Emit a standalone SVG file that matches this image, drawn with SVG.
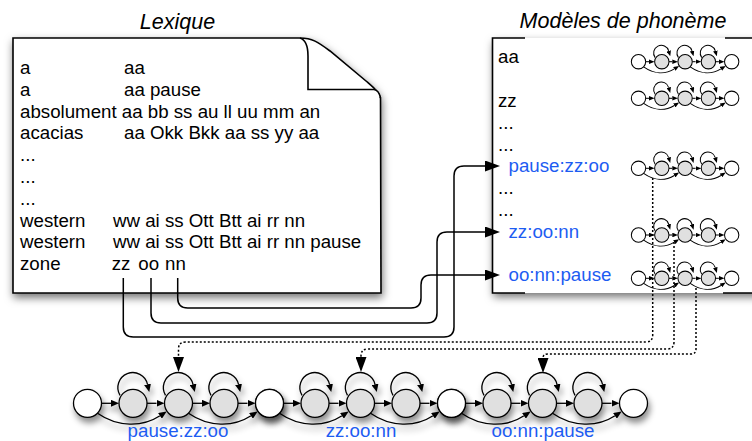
<svg xmlns="http://www.w3.org/2000/svg" width="752" height="441" viewBox="0 0 752 441">
<defs>
<style>
text{font-family:"Liberation Sans",Arial,Helvetica,sans-serif;font-size:18.7px;fill:#000}
.title{font-style:italic;font-size:21.5px;text-anchor:middle}
.blue{fill:#1d5cf2}
.lbl{fill:#1d5cf2;text-anchor:middle}
.edge{fill:none;stroke:#000;stroke-width:1.5}
.dot{fill:none;stroke:#000;stroke-width:1.5;stroke-dasharray:2 2}
.w{fill:#fff;stroke:#000}
.g{fill:#e0e0e0;stroke:#000}
.hl{fill:none;stroke:#000}
.border{stroke:#000;stroke-width:1.6}
.bigh{stroke-width:1.3}
.smallh{stroke-width:2}
</style>
<filter id="sh" x="-10%" y="-10%" width="130%" height="140%"><feDropShadow dx="1" dy="4" stdDeviation="4" flood-color="#000" flood-opacity="0.55"/></filter>
<filter id="shc" x="-20%" y="-30%" width="140%" height="180%"><feDropShadow dx="2" dy="5" stdDeviation="3" flood-color="#000" flood-opacity="0.45"/></filter>
<marker id="ah" markerUnits="userSpaceOnUse" markerWidth="8" markerHeight="7" refX="0" refY="3.5" orient="auto" viewBox="0 0 8 7"><path d="M0,0 L8,3.5 L0,7 Z" fill="#000"/></marker>
<marker id="ahs" markerUnits="userSpaceOnUse" markerWidth="11" markerHeight="9" refX="0" refY="4.5" orient="auto" viewBox="0 0 11 9"><path d="M0,0 L11,4.5 L0,9 Z" fill="#000"/></marker>
<marker id="big" markerUnits="userSpaceOnUse" markerWidth="15" markerHeight="11" refX="0" refY="5.5" orient="auto" viewBox="0 0 15 11"><path d="M0,0 L15,5.5 L0,11 Z" fill="#000"/></marker>
<g id="hmm">
<path class="hl" d="M32.5,-8 A15,15 0 1 1 60,-19" marker-end="url(#ah)"/>
<path class="hl" d="M78,-8 A15,15 0 1 1 105.5,-19" marker-end="url(#ah)"/>
<path class="hl" d="M123.5,-8 A15,15 0 1 1 151,-19" marker-end="url(#ah)"/>
<path class="hl" d="M14,0 H23.5" marker-end="url(#ah)"/>
<path class="hl" d="M59.5,0 H69" marker-end="url(#ah)"/>
<path class="hl" d="M105,0 H114.5" marker-end="url(#ah)"/>
<path class="hl" d="M150.5,0 H160" marker-end="url(#ah)"/>
<path class="hl" d="M10,10 C30,24 55,24 72.5,12.5" marker-end="url(#ah)"/>
<path class="hl" d="M101,10 C121,24 146,24 163.5,12.5" marker-end="url(#ah)"/>
<circle class="w" cx="0" cy="0" r="14"/>
<circle class="g" cx="45.5" cy="0" r="14"/>
<circle class="g" cx="91" cy="0" r="14"/>
<circle class="g" cx="136.5" cy="0" r="14"/>
<circle class="w" cx="182" cy="0" r="14"/>
</g>
<g id="hmms">
<path class="hl" d="M32.5,-8 A15,15 0 1 1 59,-21" marker-end="url(#ahs)"/>
<path class="hl" d="M78,-8 A15,15 0 1 1 104.5,-21" marker-end="url(#ahs)"/>
<path class="hl" d="M123.5,-8 A15,15 0 1 1 150,-21" marker-end="url(#ahs)"/>
<path class="hl" d="M14,0 H20.5" marker-end="url(#ahs)"/>
<path class="hl" d="M59.5,0 H66" marker-end="url(#ahs)"/>
<path class="hl" d="M105,0 H111.5" marker-end="url(#ahs)"/>
<path class="hl" d="M150.5,0 H157" marker-end="url(#ahs)"/>
<path class="hl" d="M10,10 C30,24 52,25 70,14" marker-end="url(#ahs)"/>
<path class="hl" d="M101,10 C121,24 143,25 161,14" marker-end="url(#ahs)"/>
<circle class="w" cx="0" cy="0" r="14"/>
<circle class="g" cx="45.5" cy="0" r="14"/>
<circle class="g" cx="91" cy="0" r="14"/>
<circle class="g" cx="136.5" cy="0" r="14"/>
<circle class="w" cx="182" cy="0" r="14"/>
</g>
</defs>

<g id="lexique">
<path class="border" fill="#fff" filter="url(#sh)" d="M13,38 H300 C312,38 318,42 330,51 L366,81 C374,88 379,92 380.5,98 L381,293 H13 Z"/>
<path class="border" fill="#fff" d="M300,38 C306,40 308,47 308,56 V89.5 H374 C377,90 379.5,93 380.5,98"/>
<text class="title" x="177.5" y="29">Lexique</text>
<text x="20" y="74">a</text><text x="124" y="74">aa</text>
<text x="20" y="95.8">a</text><text x="124" y="95.8">aa pause</text>
<text x="20" y="117.6">absolument aa bb ss au ll uu mm an</text>
<text x="20" y="139.4">acacias</text><text x="124" y="139.4">aa Okk Bkk aa ss yy aa</text>
<text x="20" y="161.2">...</text>
<text x="20" y="183">...</text>
<text x="20" y="204.8">...</text>
<text x="20" y="226.6">western</text><text x="113" y="226.6">ww ai ss Ott Btt ai rr nn</text>
<text x="20" y="248.4">western</text><text x="113" y="248.4">ww ai ss Ott Btt ai rr nn pause</text>
<text x="20" y="270.2">zone</text><text y="270.2"><tspan x="111.7">zz</tspan><tspan x="138.3">oo</tspan><tspan x="165">nn</tspan></text>
</g>

<g id="modeles">
<rect x="492.5" y="38" width="270" height="255" fill="#fff" filter="url(#sh)"/>
<path class="border" fill="none" d="M525,38 H492.5 V293 H525 M725,38 H760 M723,293 H760"/>
<text class="title" x="623" y="28">Modèles de phonème</text>
<text x="498" y="63.3">aa</text>
<text x="498" y="106.9">zz</text>
<text x="498" y="128.7">...</text>
<text x="498" y="150.5">...</text>
<text class="blue" x="508.5" y="172.3">pause:zz:oo</text>
<text x="498" y="194.1">...</text>
<text x="498" y="215.9">...</text>
<text class="blue" x="508.5" y="237.7">zz:oo:nn</text>
<text class="blue" x="508.5" y="281">oo:nn:pause</text>
</g>

<g id="model-aa"><use href="#hmms" class="smallh" transform="translate(638.5,61.7) scale(0.512)"/></g>
<g id="model-zz"><use href="#hmms" class="smallh" transform="translate(638.5,98.3) scale(0.512)"/></g>
<g id="model-pause-zz-oo"><use href="#hmms" class="smallh" transform="translate(638.5,168.3) scale(0.512)"/></g>
<g id="model-zz-oo-nn"><use href="#hmms" class="smallh" transform="translate(638.5,235) scale(0.512)"/></g>
<g id="model-oo-nn-pause"><use href="#hmms" class="smallh" transform="translate(638.5,278.3) scale(0.512)"/></g>

<g id="hmm-pause-zz-oo" filter="url(#shc)"><use href="#hmm" class="bigh" transform="translate(87.5,403.3)"/></g>
<g id="hmm-zz-oo-nn" filter="url(#shc)"><use href="#hmm" class="bigh" transform="translate(269.5,403.3)"/></g>
<g id="hmm-oo-nn-pause" filter="url(#shc)"><use href="#hmm" class="bigh" transform="translate(451.5,403.3)"/></g>
<text class="lbl" x="178" y="436.5">pause:zz:oo</text>
<text class="lbl" x="361" y="436.5">zz:oo:nn</text>
<text class="lbl" x="543" y="436.5">oo:nn:pause</text>

<g id="connectors">
<path class="edge" d="M123.3,278 V327 Q123.3,337 133.3,337 H444 Q454,337 454,327 V176 Q454,166 464,166 H485" marker-end="url(#big)"/>
<path class="edge" d="M151,278 V313 Q151,323 161,323 H427 Q437,323 437,313 V242 Q437,232 447,232 H485" marker-end="url(#big)"/>
<path class="edge" d="M177.7,278 V298 Q177.7,308 187.7,308 H411 Q421,308 421,298 V285 Q421,275 431,275 H485" marker-end="url(#big)"/>
<path class="dot" d="M652.7,178 V335 Q652.7,342 645.7,342 H185.5 Q178.5,342 178.5,349 V357" marker-end="url(#big)"/>
<path class="dot" d="M674,242 V342 Q674,349 667,349 H368 Q361,349 361,356 V357" marker-end="url(#big)"/>
<path class="dot" d="M696,288 V349 Q696,354 691,354 H548 Q543,354 543,358" marker-end="url(#big)"/>
</g>
</svg>
